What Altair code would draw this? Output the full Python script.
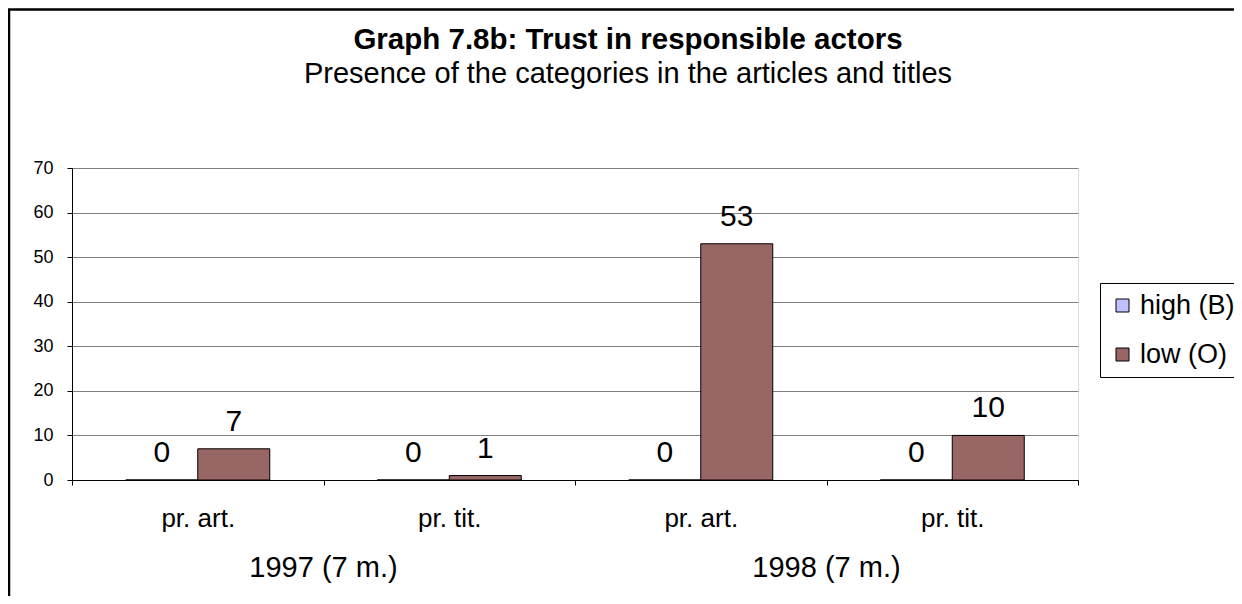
import altair as alt
import pandas as pd

title_text = "Graph 7.8b: Trust in responsible actors"
subtitle_text = "Presence of the categories in the articles and titles"
categories = ["pr. art.", "pr. tit.", "pr. art.", "pr. tit."]
periods = ["1997 (7 m.)", "1997 (7 m.)", "1998 (7 m.)", "1998 (7 m.)"]
series_names = ["high (B)", "low (O)"]
series_colors = ["#C0C0FF", "#996666"]
high_values = [0, 0, 0, 0]
low_values = [7, 1, 53, 10]
period_labels = ["1997 (7 m.)", "1998 (7 m.)"]
y_ticks = [0, 10, 20, 30, 40, 50, 60, 70]

FONT = "Liberation Sans, Arial, sans-serif"

keys = [f"{p}|{c}" for p, c in zip(periods, categories)]
rows = []
for k, h, l in zip(keys, high_values, low_values):
    rows.append({"key": k, "series": series_names[0], "value": h})
    rows.append({"key": k, "series": series_names[1], "value": l})
df = pd.DataFrame(rows)

# period label sits on the boundary between its two categories
grp = pd.DataFrame({
    "label": period_labels,
    "key": [keys[periods.index(p) + 1] for p in period_labels],
})

W, H = 1006, 312

xscale = alt.Scale(domain=keys, paddingInner=0, paddingOuter=0)
yscale = alt.Scale(domain=[0, 70], nice=False)
xoff_scale = alt.Scale(domain=series_names, paddingInner=0, paddingOuter=0.7465)

frame = alt.Chart(pd.DataFrame({"a": [0]})).mark_rect(
    filled=False, stroke="black", strokeWidth=2.5
).encode(
    x=alt.value(-63), x2=alt.value(1400), y=alt.value(-158.5), y2=alt.value(800)
)

title_mark = alt.Chart(pd.DataFrame({"t": [title_text]})).mark_text(
    fontSize=29.5, font=FONT, fontWeight="bold", color="black",
    baseline="alphabetic", align="center"
).encode(x=alt.value(556), y=alt.value(-119), text="t:N")

subtitle_mark = alt.Chart(pd.DataFrame({"t": [subtitle_text]})).mark_text(
    fontSize=29, font=FONT, color="black", baseline="alphabetic", align="center"
).encode(x=alt.value(556), y=alt.value(-85), text="t:N")

bars = alt.Chart(df).mark_bar(stroke="black", strokeWidth=1).encode(
    x=alt.X("key:N", scale=xscale, sort=keys, title=None,
            axis=alt.Axis(labelExpr="split(datum.label, '|')[1]", tickBand="extent",
                          labelAngle=0, labelFontSize=26, labelFont=FONT, labelColor="black",
                          labelBaseline="alphabetic", labelPadding=41, tickSize=5,
                          tickColor="black", domainColor="black", grid=False)),
    xOffset=alt.XOffset("series:N", scale=xoff_scale, sort=series_names),
    y=alt.Y("value:Q", scale=yscale, title=None,
            axis=alt.Axis(values=y_ticks, labelFontSize=18, labelFont=FONT, labelColor="black",
                          labelPadding=14, tickSize=5, tickColor="black", domainColor="black",
                          grid=True, gridColor="#808080", gridWidth=1)),
    color=alt.Color("series:N", scale=alt.Scale(domain=series_names, range=series_colors),
                    legend=alt.Legend(title=None, orient="none", legendX=1028, legendY=115,
                                      strokeColor="black", fillColor="white", padding=9,
                                      symbolType="square", symbolSize=169,
                                      symbolStrokeColor="black", symbolStrokeWidth=1,
                                      labelFontSize=27, labelFont=FONT, labelColor="black",
                                      labelOffset=4, rowPadding=21)),
)

labels = alt.Chart(df).mark_text(
    fontSize=30, font=FONT, color="black", baseline="alphabetic", dy=-18
).encode(
    x=alt.X("key:N", scale=xscale, sort=keys, title=None),
    xOffset=alt.XOffset("series:N", scale=xoff_scale, sort=series_names),
    y=alt.Y("value:Q", scale=yscale, title=None),
    text=alt.Text("value:Q"),
)

group_text = alt.Chart(grp).mark_text(
    fontSize=29, font=FONT, color="black", baseline="alphabetic", align="center"
).encode(
    x=alt.X("key:N", scale=xscale, sort=keys, title=None, bandPosition=0),
    y=alt.value(409),
    text="label:N",
)

chart = alt.layer(frame, title_mark, subtitle_mark, bars, labels, group_text).properties(
    width=W, height=H,
    autosize=alt.AutoSizeParams(type="none"),
    padding={"left": 64, "top": 160, "right": 156, "bottom": 116},
).configure_view(stroke="#808080", strokeWidth=1).configure(background="white")

chart.save("out.html", embed_options={"renderer": "svg", "actions": False})
